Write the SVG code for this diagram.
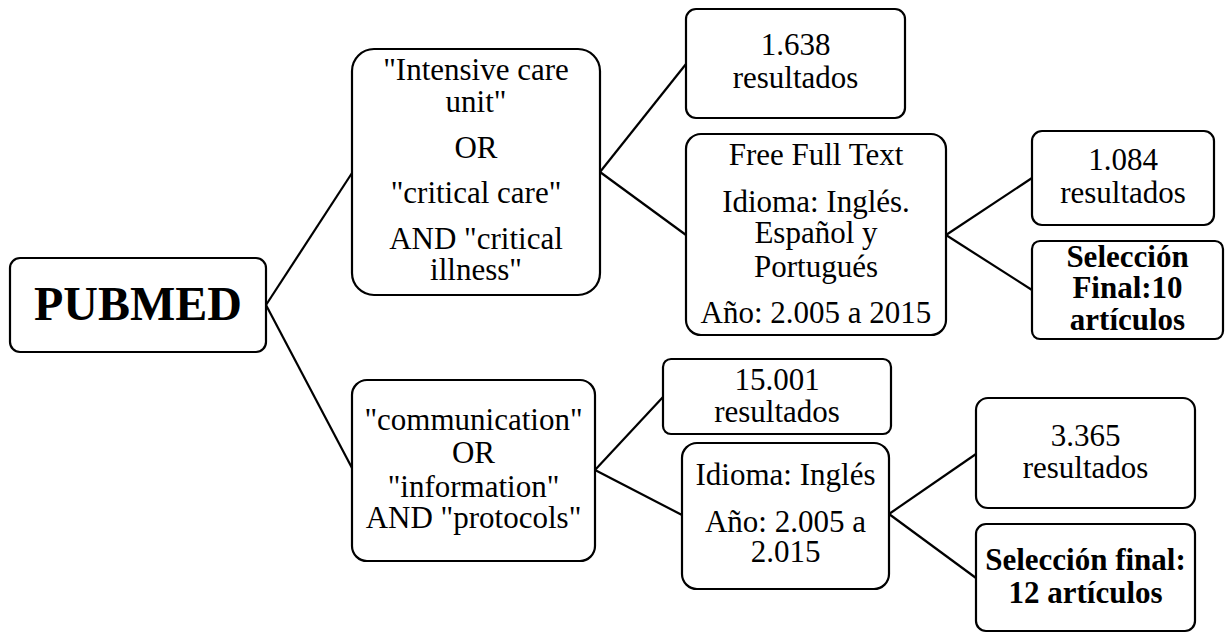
<svg xmlns="http://www.w3.org/2000/svg" width="1229" height="633" viewBox="0 0 1229 633">
<style>
.box{fill:#fff;stroke:#000;stroke-width:2.2}
.c{stroke:#000;stroke-width:2.2;fill:none}
text{font-family:"Liberation Serif","Times New Roman",serif;font-size:31px;fill:#000;text-anchor:middle}
.b{font-weight:bold}
.big{font-size:48px}
</style>
<rect width="1229" height="633" fill="#fff"/>
<g id="connectors">
<line class="c" x1="266" y1="305" x2="352" y2="173"/>
<line class="c" x1="266" y1="305" x2="352" y2="468"/>
<line class="c" x1="600" y1="172" x2="686" y2="64"/>
<line class="c" x1="600" y1="172" x2="686" y2="235"/>
<line class="c" x1="946" y1="235" x2="1032" y2="178"/>
<line class="c" x1="946" y1="235" x2="1032" y2="290"/>
<line class="c" x1="595" y1="470" x2="663" y2="397"/>
<line class="c" x1="595" y1="470" x2="682" y2="515"/>
<line class="c" x1="889" y1="514" x2="976" y2="454"/>
<line class="c" x1="889" y1="514" x2="976" y2="578"/>
</g>
<g id="pubmed">
<rect class="box" x="10" y="258" width="256" height="94" rx="10"/>
<text class="b big" x="138" y="320">PUBMED</text>
</g>
<g id="icu">
<rect class="box" x="352" y="49" width="248" height="246" rx="22"/>
<text x="476" y="80">"Intensive care</text>
<text x="476" y="112">unit"</text>
<text x="476" y="158">OR</text>
<text x="476" y="203">"critical care"</text>
<text x="476" y="249">AND "critical</text>
<text x="476" y="280">illness"</text>
</g>
<g id="comm">
<rect class="box" x="352" y="380" width="243" height="181" rx="15"/>
<text x="473.5" y="430">"communication"</text>
<text x="473.5" y="463">OR</text>
<text x="473.5" y="497">"information"</text>
<text x="473.5" y="528">AND "protocols"</text>
</g>
<g id="r1638">
<rect class="box" x="686" y="9" width="219" height="109" rx="10"/>
<text x="795.5" y="55">1.638</text>
<text x="795.5" y="88">resultados</text>
</g>
<g id="filter1">
<rect class="box" x="686" y="134" width="260" height="201" rx="15"/>
<text x="816" y="165">Free Full Text</text>
<text x="816" y="212">Idioma: Inglés.</text>
<text x="816" y="243">Español y</text>
<text x="816" y="277">Portugués</text>
<text x="816" y="323">Año: 2.005 a 2015</text>
</g>
<g id="r1084">
<rect class="box" x="1032" y="131" width="182" height="94" rx="10"/>
<text x="1123" y="170">1.084</text>
<text x="1123" y="203">resultados</text>
</g>
<g id="sel10">
<rect class="box" x="1032" y="241" width="191" height="98" rx="8"/>
<text class="b" x="1127.5" y="267">Selección</text>
<text class="b" x="1127.5" y="298">Final:10</text>
<text class="b" x="1127.5" y="330">artículos</text>
</g>
<g id="r15001">
<rect class="box" x="663" y="359" width="228" height="75" rx="8"/>
<text x="777" y="390">15.001</text>
<text x="777" y="422">resultados</text>
</g>
<g id="filter2">
<rect class="box" x="682" y="443" width="207" height="146" rx="15"/>
<text x="785.5" y="485">Idioma: Inglés</text>
<text x="785.5" y="532">Año: 2.005 a</text>
<text x="785.5" y="562">2.015</text>
</g>
<g id="r3365">
<rect class="box" x="976" y="398" width="219" height="110" rx="12"/>
<text x="1085.5" y="446">3.365</text>
<text x="1085.5" y="478">resultados</text>
</g>
<g id="sel12">
<rect class="box" x="976" y="524" width="219" height="107" rx="10"/>
<text class="b" x="1085.5" y="570">Selección final:</text>
<text class="b" x="1085.5" y="603">12 artículos</text>
</g>
</svg>
